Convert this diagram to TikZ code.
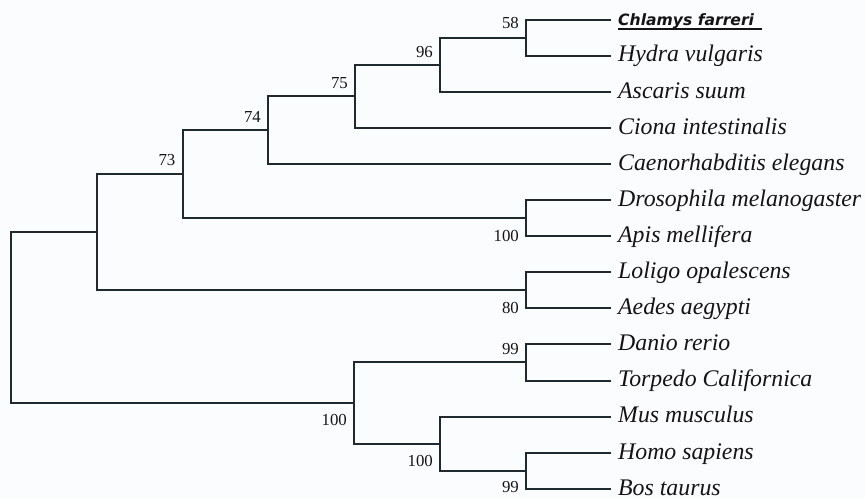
\documentclass[tikz,border=0pt]{standalone}
\usepackage{fontspec}
\setmainfont{Liberation Serif}
\newfontfamily\chlfont{DejaVu Sans}
\definecolor{branchcol}{HTML}{1E2A30}
\definecolor{txtcol}{HTML}{141414}
\definecolor{bgcol}{HTML}{FBFCFD}
\tikzset{
  branch/.style={draw=branchcol, line width=2pt, line join=miter},
  leaflab/.style={anchor=base west, inner sep=0pt, text=txtcol, font=\fontsize{23.8}{26}\selectfont\itshape},
  boot/.style={anchor=east, inner sep=0pt, text=txtcol, font=\fontsize{16.8}{18}\selectfont},
}
\begin{document}
\begin{tikzpicture}[x=1pt, y=-1pt]
\fill[bgcol] (0,0) rectangle (865,499);
\useasboundingbox (0,0) rectangle (865,499);
% leaf tips
\foreach \i/\nm in {0/t1,1/t2,2/t3,3/t4,4/t5,5/t6,6/t7,7/t8,8/t9,9/t10,10/t11,11/t12,12/t13,13/t14}{
  \coordinate (\nm) at (611, {19.5+36.1*\i});
}
% internal nodes
\coordinate (n58)   at (526, 37.55);
\coordinate (n96)   at (440, 64.6);
\coordinate (n75)   at (355, 96.2);
\coordinate (n74)   at (268, 130.05);
\coordinate (n100a) at (526, 218.05);
\coordinate (n73)   at (182.7, 174.05);
\coordinate (n80)   at (526, 290.25);
\coordinate (nA)    at (96.7, 232.15);
\coordinate (n99a)  at (526, 362.45);
\coordinate (n99b)  at (526, 470.75);
\coordinate (n100c) at (440, 443.7);
\coordinate (n100b) at (354, 403.1);
\coordinate (root)  at (11, 317.6);
% branches
\draw[branch] (n58) |- (t1);  \draw[branch] (n58) |- (t2);
\draw[branch] (n96) |- (n58); \draw[branch] (n96) |- (t3);
\draw[branch] (n75) |- (n96); \draw[branch] (n75) |- (t4);
\draw[branch] (n74) |- (n75); \draw[branch] (n74) |- (t5);
\draw[branch] (n100a) |- (t6); \draw[branch] (n100a) |- (t7);
\draw[branch] (n73) |- (n74); \draw[branch] (n73) |- (n100a);
\draw[branch] (n80) |- (t8);  \draw[branch] (n80) |- (t9);
\draw[branch] (nA) |- (n73);  \draw[branch] (nA) |- (n80);
\draw[branch] (n99a) |- (t10); \draw[branch] (n99a) |- (t11);
\draw[branch] (n99b) |- (t13); \draw[branch] (n99b) |- (t14);
\draw[branch] (n100c) |- (t12); \draw[branch] (n100c) |- (n99b);
\draw[branch] (n100b) |- (n99a); \draw[branch] (n100b) |- (n100c);
\draw[branch] (root) |- (nA); \draw[branch] (root) |- (n100b);
% leaf labels
\node[anchor=base west, inner sep=0pt, text=txtcol, font=\chlfont\fontsize{15.6}{18}\selectfont\bfseries\itshape] (l1) at ([xshift=7pt, yshift=-5.5pt]t1) {\rlap{\color{txtcol}\rule[-4.5pt]{144pt}{1.8pt}}Chlamys farreri};
\node[leaflab] (l2)  at ([xshift=7pt, yshift=-6.3pt]t2)  {Hydra vulgaris};
\node[leaflab] (l3)  at ([xshift=7pt, yshift=-6.3pt]t3)  {Ascaris suum};
\node[leaflab] (l4)  at ([xshift=7pt, yshift=-6.3pt]t4)  {Ciona intestinalis};
\node[leaflab] (l5)  at ([xshift=7pt, yshift=-6.3pt]t5)  {Caenorhabditis elegans};
\node[leaflab] (l6)  at ([xshift=7pt, yshift=-6.3pt]t6)  {Drosophila melanogaster};
\node[leaflab] (l7)  at ([xshift=7pt, yshift=-6.3pt]t7)  {Apis mellifera};
\node[leaflab] (l8)  at ([xshift=7pt, yshift=-6.3pt]t8)  {Loligo opalescens};
\node[leaflab] (l9)  at ([xshift=7pt, yshift=-6.3pt]t9)  {Aedes aegypti};
\node[leaflab] (l10) at ([xshift=7pt, yshift=-6.3pt]t10) {Danio rerio};
\node[leaflab] (l11) at ([xshift=7pt, yshift=-6.3pt]t11) {Torpedo Californica};
\node[leaflab] (l12) at ([xshift=7pt, yshift=-6.3pt]t12) {Mus musculus};
\node[leaflab] (l13) at ([xshift=7pt, yshift=-6.3pt]t13) {Homo sapiens};
\node[leaflab] (l14) at ([xshift=7pt, yshift=-6.3pt]t14) {Bos taurus};
% bootstrap values
\node[boot] (b58)   at (519, 23)    {58};
\node[boot] (b96)   at (433, 52.5)  {96};
\node[boot] (b75)   at (348, 83)    {75};
\node[boot] (b74)   at (261, 116.5) {74};
\node[boot] (b73)   at (175.5, 160) {73};
\node[boot] (b100a) at (519, 235.5) {100};
\node[boot] (b80)   at (519, 307.5) {80};
\node[boot] (b99a)  at (519, 349)   {99};
\node[boot] (b100b) at (347, 420)   {100};
\node[boot] (b100c) at (433, 461)   {100};
\node[boot] (b99b)  at (519, 487.5) {99};
\end{tikzpicture}
\end{document}
